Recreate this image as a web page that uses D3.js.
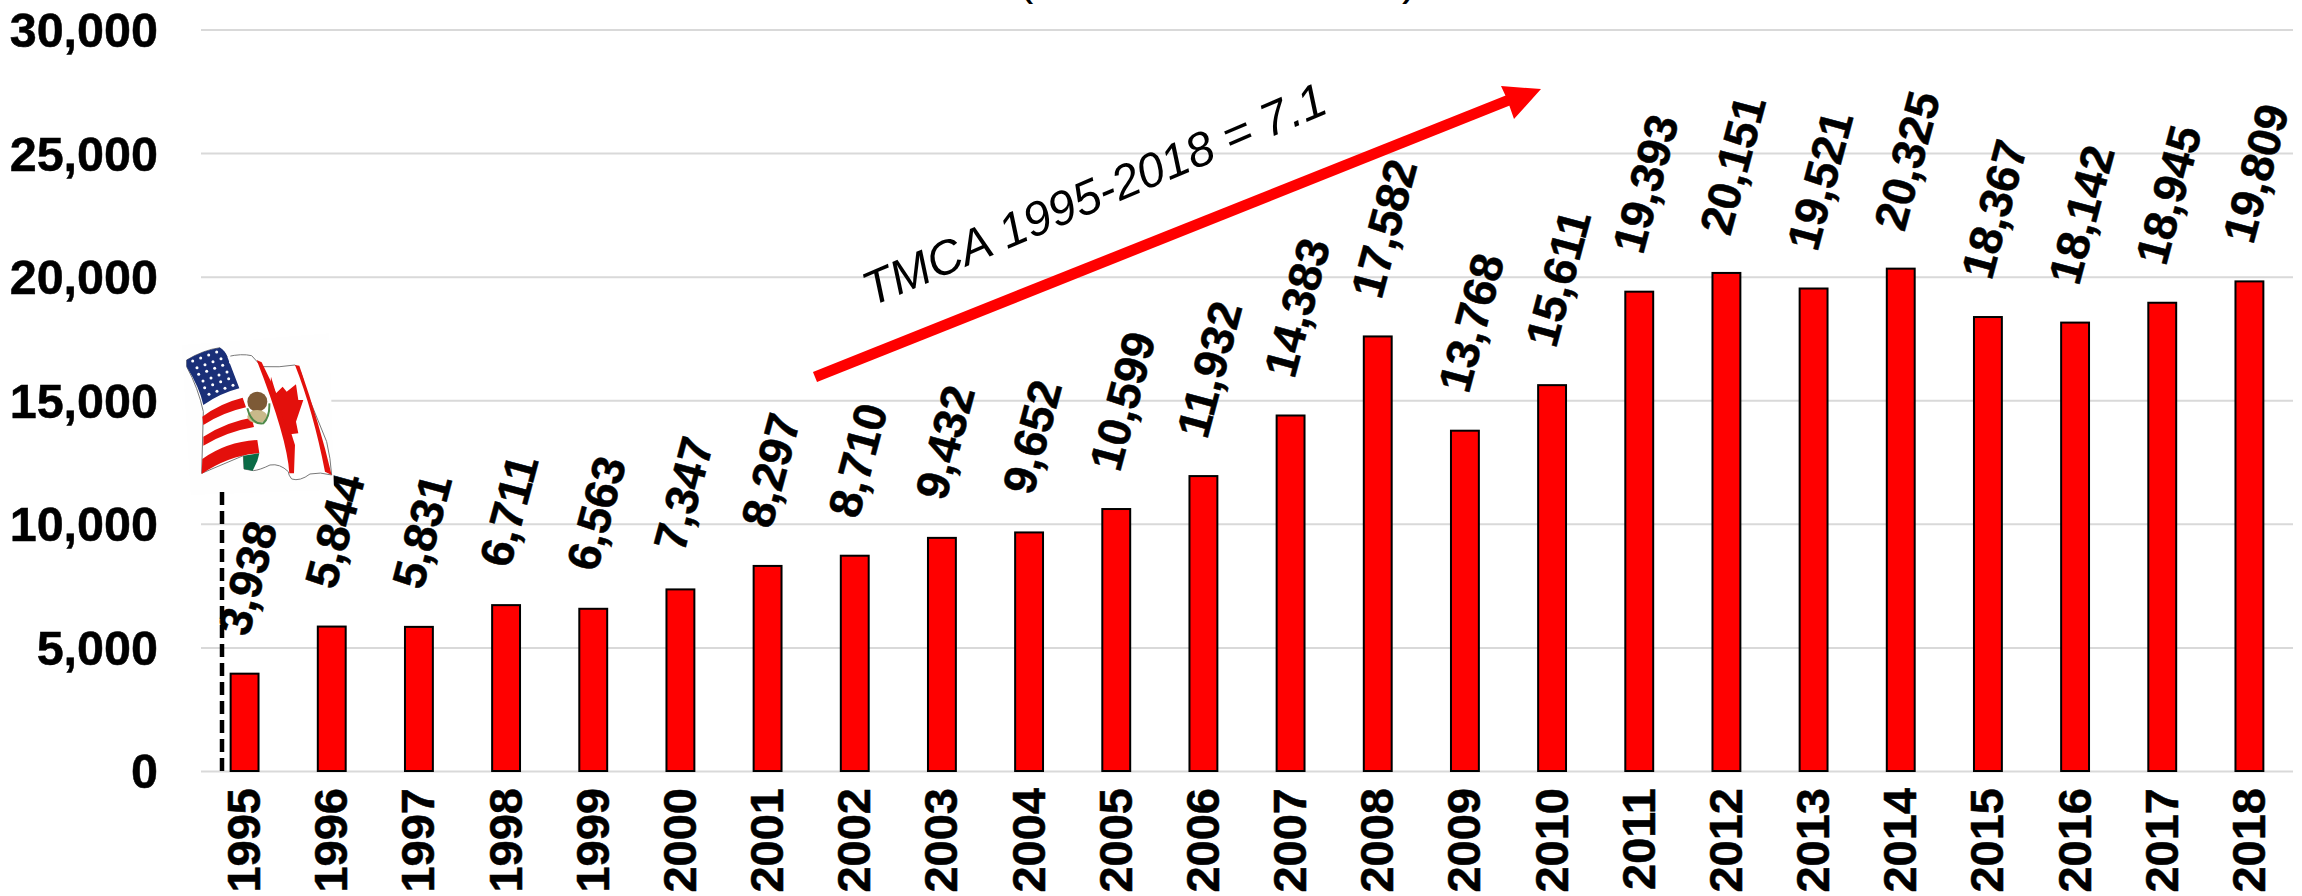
<!DOCTYPE html>
<html>
<head>
<meta charset="utf-8">
<script src="https://cdn.jsdelivr.net/npm/d3@7"></script>
<style>
  body { margin: 0; background: #fff; }
  text { font-family: "Liberation Sans", Arial, sans-serif; fill: #000; }
</style>
</head>
<body>
<div id="wrapper"></div>
<script>
const years = ['1995','1996','1997','1998','1999','2000','2001','2002','2003','2004','2005','2006',
  '2007','2008','2009','2010','2011','2012','2013','2014','2015','2016','2017','2018'];
const flows = [3938,5844,5831,6711,6563,7347,8297,8710,9432,9652,10599,11932,
  14383,17582,13768,15611,19393,20151,19521,20325,18367,18142,18945,19809];
const yTicks = [0,5000,10000,15000,20000,25000,30000];
const trendLabel = 'TMCA 1995-2018 = 7.1';

const dimensions = {
  width: 2302,
  height: 896,
  margin: { top: 29.5, right: 9, bottom: 125, left: 201 },
};
dimensions.boundedWidth = dimensions.width - dimensions.margin.left - dimensions.margin.right;
dimensions.boundedHeight = dimensions.height - dimensions.margin.top - dimensions.margin.bottom;

const wrapper = d3.select('#wrapper').append('svg')
  .attr('width', dimensions.width)
  .attr('height', dimensions.height)
  .style('display', 'block');

const bounds = wrapper.append('g')
  .attr('transform', `translate(${dimensions.margin.left},${dimensions.margin.top})`);

const xScale = d3.scaleBand().domain(years).range([0, dimensions.boundedWidth]).paddingInner(0.68).paddingOuter(0.34);
const yScale = d3.scaleLinear().domain([0, 30000]).range([dimensions.boundedHeight, 0]);

// gridlines + value labels
const yAxis = bounds.append('g').call(
  d3.axisLeft(yScale).tickValues(yTicks).tickFormat(d3.format(',')).tickSize(-dimensions.boundedWidth).tickPadding(43)
);
yAxis.select('.domain').remove();
yAxis.selectAll('.tick line').attr('stroke', '#d9d9d9').attr('stroke-width', 2);
yAxis.selectAll('.tick text')
  .style('font-size', '48.5px')
  .style('font-weight', 'bold')
  .style('stroke', '#000')
  .style('stroke-width', 0.5)
  .attr('dy', '0.35em');

const xAxis = bounds.append('g')
  .attr('transform', `translate(0,${dimensions.boundedHeight})`)
  .call(d3.axisBottom(xScale).tickSize(0));
xAxis.select('.domain').remove();
xAxis.selectAll('.tick text')
  .style('font-size', '47px')
  .style('font-weight', 'bold')
  .style('stroke', '#000')
  .style('stroke-width', 0.5)
  .attr('text-anchor', 'end')
  .attr('transform', 'rotate(-90)')
  .attr('x', -17)
  .attr('y', -1)
  .attr('dy', '0.35em');

bounds.append('g').selectAll('rect')
  .data(years)
  .join('rect')
  .attr('x', (d) => xScale(d))
  .attr('width', xScale.bandwidth())
  .attr('y', (d, i) => yScale(flows[i]))
  .attr('height', (d, i) => dimensions.boundedHeight - yScale(flows[i]))
  .attr('fill', '#ff0000')
  .attr('stroke', '#000')
  .attr('stroke-width', 2);

// NAFTA flags
const flag = wrapper.append('g').attr('transform', 'translate(170,325) scale(0.3333)');
flag.append('path').attr('d', 'M35 60L478 25L492 495L62 510Z').attr('fill', '#fefefe');
flag.append('path')
  .attr('d', 'M50 105Q100 75 150 68L172 95Q215 85 245 92L275 125Q330 128 375 120Q395 130 405 190L470 350Q482 400 485 450Q450 440 420 447Q390 470 365 462Q355 450 355 440Q330 415 300 420Q270 435 250 437L222 432L220 392L95 445L100 260Q85 190 50 125Z')
  .attr('fill', '#fff').attr('stroke', '#777').attr('stroke-width', 3);
flag.append('path').attr('d', 'M50 105Q100 75 150 68Q165 75 172 95L208 190Q150 205 100 240Q90 190 50 125Z').attr('fill', '#1a2f78');
d3.range(6).forEach((row) => d3.range(5).forEach((col) => {
  flag.append('circle')
    .attr('cx', 68 + col * 24 + row * 9 + (row % 2) * 4)
    .attr('cy', 108 - col * 9 + row * 20)
    .attr('r', 4.5)
    .attr('fill', '#fff');
}));
flag.append('path').attr('d', 'M97 275Q150 235 218 218L228 247Q160 262 100 300Z').attr('fill', '#e3100c');
flag.append('path').attr('d', 'M100 335Q170 290 245 278L252 306Q170 320 100 362Z').attr('fill', '#e3100c');
flag.append('path').attr('d', 'M97 402Q170 350 262 345L268 385Q180 390 95 447Z').attr('fill', '#e3100c');
flag.append('path').attr('d', 'M220 392L268 385L262 408L248 437L222 432Z').attr('fill', '#0a6b46');
flag.append('path').attr('d', 'M260 105L275 112Q340 240 375 360L372 445L358 445Q352 340 260 105Z').attr('fill', '#e3100c');
flag.append('path').attr('d', 'M375 120L388 122Q450 300 485 450L465 440Q430 260 375 120Z').attr('fill', '#e3100c');
flag.append('path')
  .attr('d', 'M303 155L318 205L338 185L350 200L378 178L385 225L400 225L378 290L385 325L360 328L335 270L300 200Z')
  .attr('fill', '#e3100c');
flag.append('ellipse').attr('cx', 262).attr('cy', 230).attr('rx', 30).attr('ry', 30).attr('fill', '#7d5a36');
flag.append('ellipse').attr('cx', 262).attr('cy', 275).attr('rx', 30).attr('ry', 20).attr('fill', '#c9b98a');
flag.append('path').attr('d', 'M232 250Q245 300 280 295Q300 275 298 235').attr('fill', 'none').attr('stroke', '#4f8a4a').attr('stroke-width', 6);

// start-of-NAFTA marker
wrapper.append('line')
  .attr('x1', 222).attr('x2', 222)
  .attr('y1', 492).attr('y2', dimensions.margin.top + dimensions.boundedHeight)
  .attr('stroke', '#000').attr('stroke-width', 4.5).attr('stroke-dasharray', '13 6');

// data labels
bounds.append('g').selectAll('text')
  .data(years)
  .join('text')
  .attr('transform', (d, i) => `translate(${xScale(d) + xScale.bandwidth() / 2 - 12},${yScale(flows[i]) - 40}) rotate(-75)`)
  .attr('dy', '0.35em')
  .style('font-size', '46px')
  .style('font-weight', 'bold')
  .style('stroke', '#000')
  .style('stroke-width', 0.5)
  .text((d, i) => d3.format(',')(flows[i]));

// trend arrow
wrapper.append('line')
  .attr('x1', 815).attr('y1', 377).attr('x2', 1509).attr('y2', 100)
  .attr('stroke', '#ff0000').attr('stroke-width', 11);
wrapper.append('path').attr('d', 'M1541 89L1501 86L1507 99L1514 119Z').attr('fill', '#ff0000');

wrapper.append('text')
  .attr('transform', 'translate(1094,194) rotate(-23)')
  .attr('text-anchor', 'middle')
  .attr('dy', '0.35em')
  .style('font-size', '48px')
  .style('font-style', 'italic')
  .text(trendLabel);

// bottom of the clipped title
wrapper.append('text').attr('x', 1018).attr('y', -6).style('font-size', '46px').text('(');
wrapper.append('text').attr('x', 1402).attr('y', -6).style('font-size', '46px').text(')');
</script>
</body>
</html>
